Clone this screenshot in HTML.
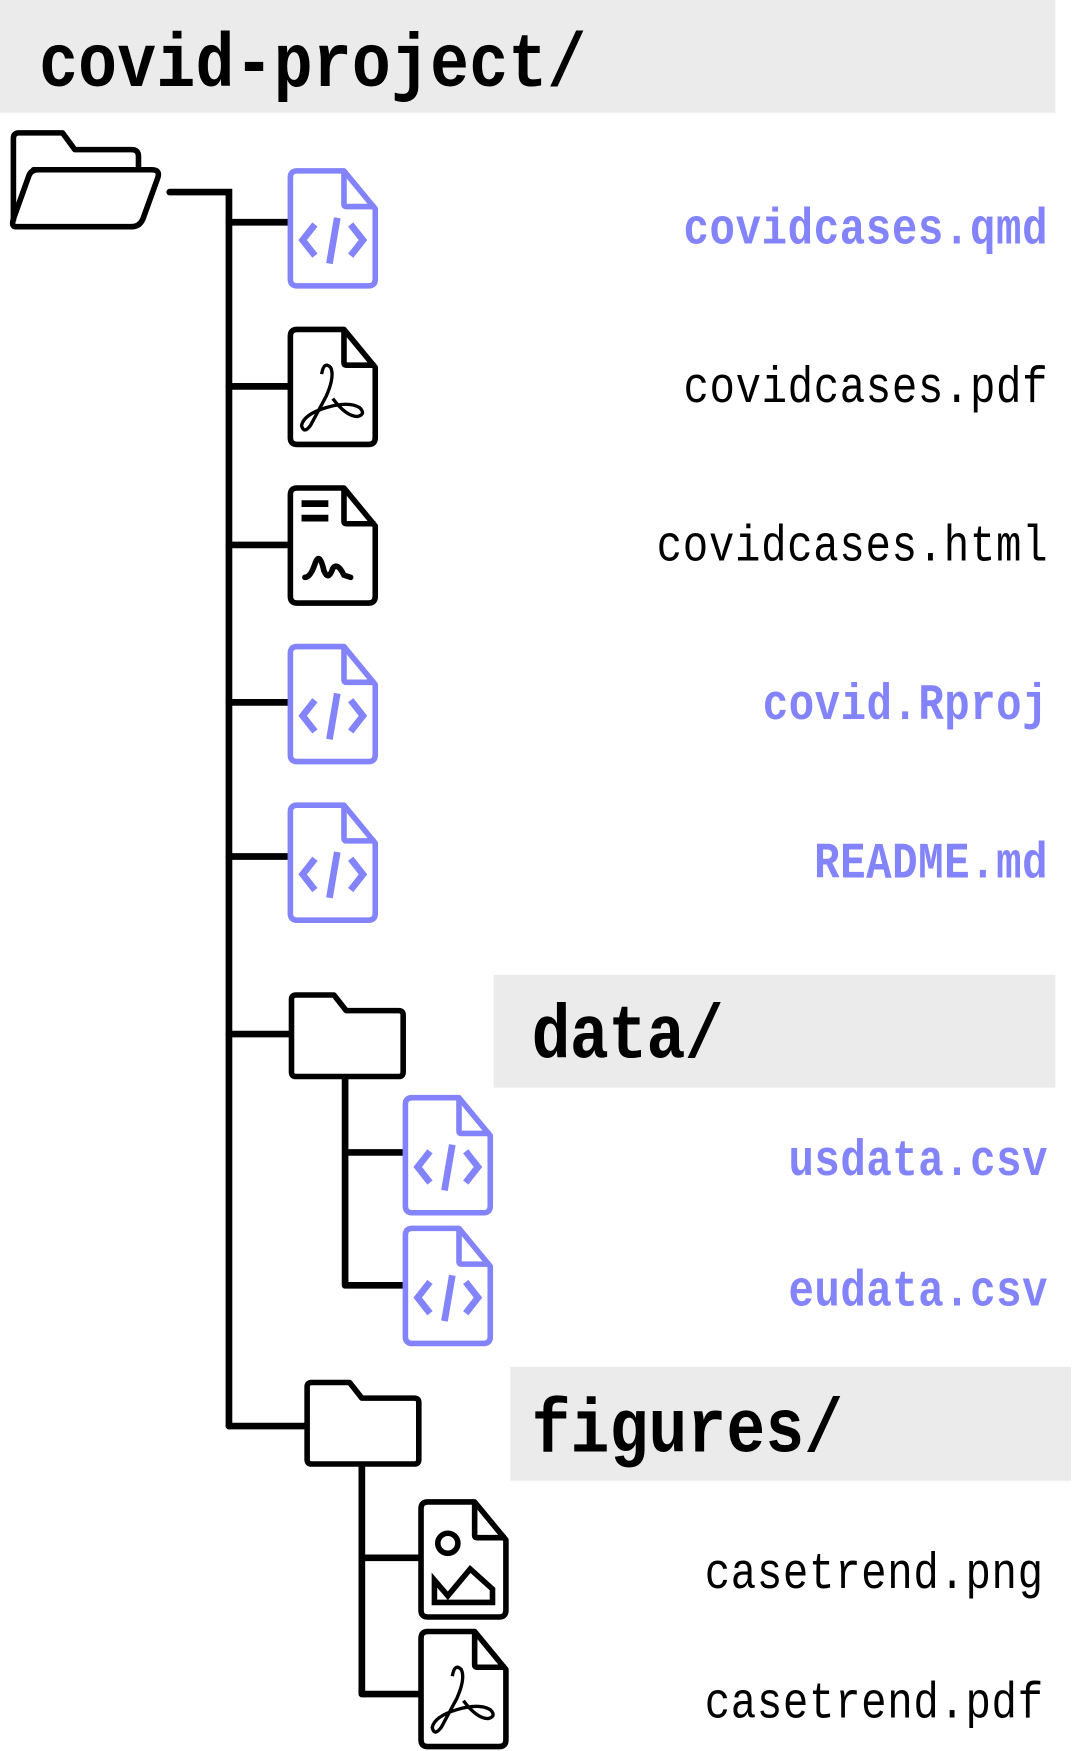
<!DOCTYPE html>
<html><head><meta charset="utf-8"><style>
html,body{margin:0;padding:0;background:#fff;}
svg{display:block;}
text{font-family:"Liberation Mono","DejaVu Sans Mono",monospace;}
</style></head><body>
<svg width="1090" height="1751" viewBox="0 0 976 1568" preserveAspectRatio="none" xmlns="http://www.w3.org/2000/svg">
<defs>
<g id="file" fill="none" stroke-width="5" stroke-linejoin="round">
<path d="M8,2 H50 L78,36 V99 Q78,105 72,105 H8 Q2,105 2,99 V8 Q2,2 8,2 Z"/>
<path d="M50,2 V32 Q50,34 52,34 H78"/>
</g>
<g id="code" fill="none" stroke="#8383fb" stroke-width="6" stroke-linejoin="miter">
<use href="#file"/>
<path d="M24,50 L13,64 L24,78 M56,50 L67,64 L56,78 M44,44 L37,85"/>
</g>
<g id="fold" fill="none" stroke="#000" stroke-width="5" stroke-linejoin="round">
<path d="M6,3 H40 L51,17 H98 Q102,17 102,21 V72 Q102,76 98,76 H6 Q2,76 2,72 V7 Q2,3 6,3 Z"/>
</g>
<g id="pdf" stroke="#000">
<use href="#file"/>
<path d="M30,42 Q32,30 38,36 Q42,44 34,62 L20,88 Q14,96 12,88 Q14,78 34,72 Q54,66 64,72 Q70,78 62,80 Q52,80 40,64" fill="none" stroke-width="3"/>
</g>
</defs>

<rect x="0" y="0" width="945" height="101" fill="#ebebeb"/>
<g transform="translate(35,77) scale(1,1.17)"><text x="0" y="0" font-size="58" font-weight="bold" fill="#000" textLength="490" lengthAdjust="spacing">covid-project/</text></g>

<g fill="none" stroke="#000" stroke-width="5" stroke-linejoin="round">
<path d="M12,198 V124 Q12,119 17,119 H56 L67,134 H118 Q124,134 124,140 V152"/>
<path d="M30,152 H136 Q144,152 141,160 L128,196 Q125,203 118,203 H14 Q10,203 12,196 L26,157 Q28,152 34,152 Z"/>
</g>

<g stroke="#000" stroke-width="6" fill="none" stroke-linecap="round">
<path d="M152,172 H205 V1277"/>
<path d="M205,199 H258 M205,346 H258 M205,488 H258 M205,629 H258 M205,767 H258 M205,926 H259 M205,1277 H273"/>
<path d="M309,965 V1151 M309,1032 H362 M309,1151 H362"/>
<path d="M324,1312 V1517 M324,1395 H376 M324,1517 H376"/>
</g>

<use href="#code" x="258" y="151"/>
<use href="#pdf" x="258" y="293"/>
<g transform="translate(258,435)" stroke="#000">
<use href="#file"/>
<path d="M12,16 H36 M12,29 H36" stroke-width="6"/>
<path d="M15,82 Q20,82 24,70 Q28,58 32,76 Q36,86 40,74 Q44,68 50,80 L56,82" fill="none" stroke-width="5" stroke-linecap="round"/>
</g>
<use href="#code" x="258" y="577"/>
<use href="#code" x="258" y="719"/>

<use href="#fold" x="259" y="888"/>
<rect x="442" y="873" width="503" height="101" fill="#ebebeb"/>
<g transform="translate(476,947) scale(1,1.17)"><text x="0" y="0" font-size="58" font-weight="bold" fill="#000" textLength="172" lengthAdjust="spacing">data/</text></g>
<use href="#code" x="361" y="981"/>
<use href="#code" x="361" y="1098"/>

<use href="#fold" x="273" y="1235"/>
<rect x="457" y="1224" width="502" height="102" fill="#ebebeb"/>
<g transform="translate(476,1300) scale(1,1.17)"><text x="0" y="0" font-size="58" font-weight="bold" fill="#000" textLength="279" lengthAdjust="spacing">figures/</text></g>
<g transform="translate(375,1343)" stroke="#000" fill="none">
<use href="#file"/>
<circle cx="26" cy="39" r="9" stroke-width="5"/>
<path d="M14,92 V72 L26,86 L46,62 L66,80 V92 Z" stroke-width="5" stroke-linejoin="miter"/>
</g>
<use href="#pdf" x="375" y="1459"/>

<g font-size="38">
<g transform="translate(612,218) scale(1,1.2)"><text fill="#8383fb" font-weight="bold" textLength="326" lengthAdjust="spacing">covidcases.qmd</text></g>
<g transform="translate(612,360) scale(1,1.2)"><text fill="#000" textLength="326" lengthAdjust="spacing">covidcases.pdf</text></g>
<g transform="translate(588,502) scale(1,1.2)"><text fill="#000" textLength="350" lengthAdjust="spacing">covidcases.html</text></g>
<g transform="translate(683,644) scale(1,1.2)"><text fill="#8383fb" font-weight="bold" textLength="255" lengthAdjust="spacing">covid.Rproj</text></g>
<g transform="translate(729,786) scale(1,1.2)"><text fill="#8383fb" font-weight="bold" textLength="209" lengthAdjust="spacing">README.md</text></g>
<g transform="translate(706,1052) scale(1,1.2)"><text fill="#8383fb" font-weight="bold" textLength="232" lengthAdjust="spacing">usdata.csv</text></g>
<g transform="translate(706,1169) scale(1,1.2)"><text fill="#8383fb" font-weight="bold" textLength="232" lengthAdjust="spacing">eudata.csv</text></g>
<g transform="translate(631,1422) scale(1,1.2)"><text fill="#000" textLength="303" lengthAdjust="spacing">casetrend.png</text></g>
<g transform="translate(631,1538) scale(1,1.2)"><text fill="#000" textLength="303" lengthAdjust="spacing">casetrend.pdf</text></g>
</g>
</svg>
</body></html>
